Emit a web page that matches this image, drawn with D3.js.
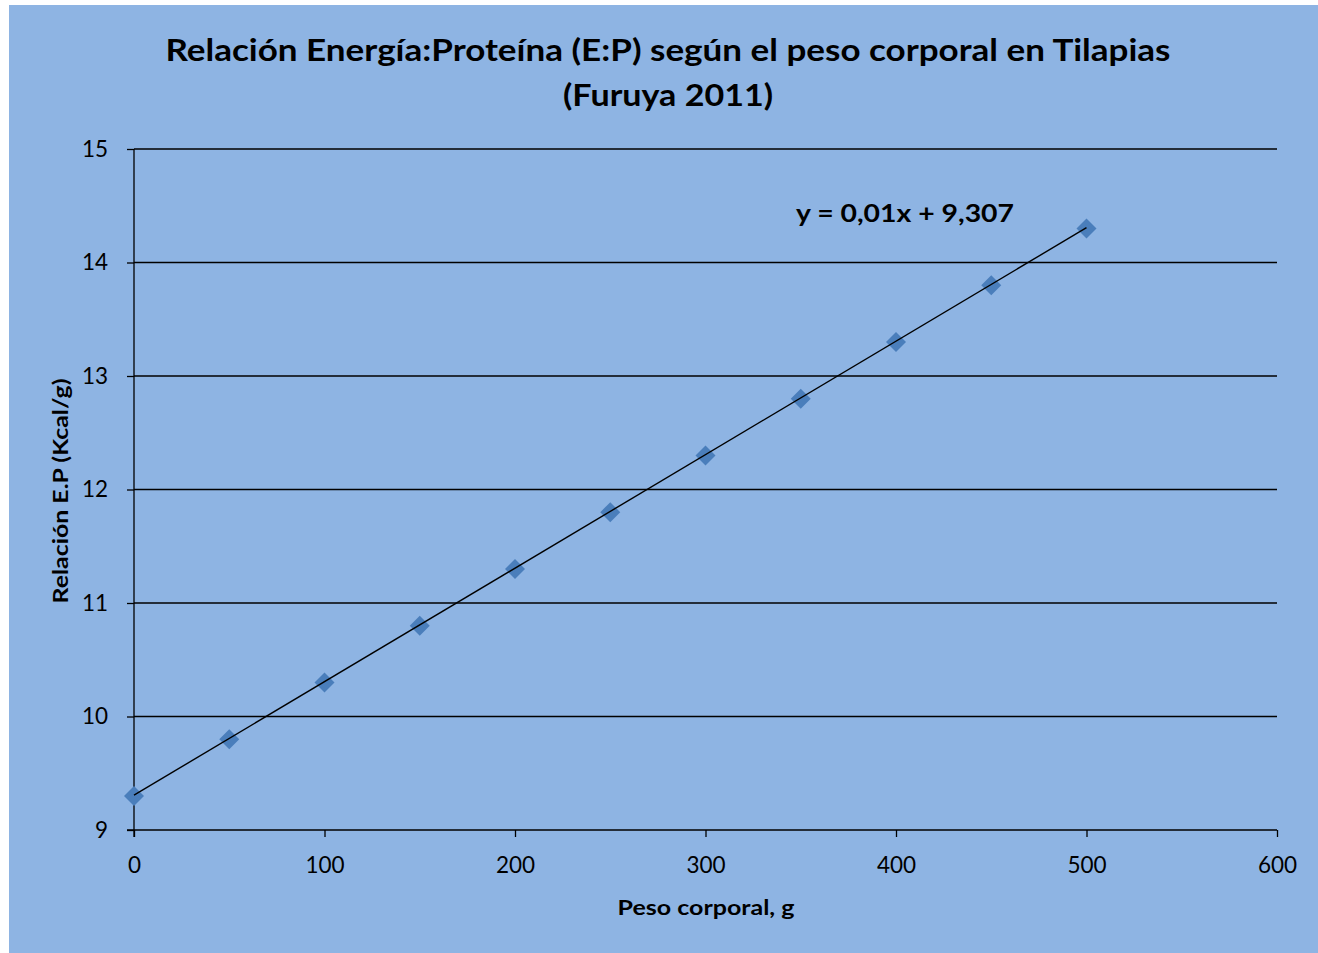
<!DOCTYPE html>
<html><head><meta charset="utf-8">
<script src="https://cdn.jsdelivr.net/npm/d3@7"></script>
<style>html,body{margin:0;padding:0;background:#fff;}svg{display:block;}</style>
</head><body>
<script>
const xValues = [0, 50, 100, 150, 200, 250, 300, 350, 400, 450, 500];
const yValues = [9.3, 9.8, 10.3, 10.8, 11.3, 11.8, 12.3, 12.8, 13.3, 13.8, 14.3];
const xTicks = [0, 100, 200, 300, 400, 500, 600];
const yTicks = [9, 10, 11, 12, 13, 14, 15];
const trendSlope = 0.01, trendIntercept = 9.307;
const titleLines = ["Relación Energía:Proteína (E:P) según el peso corporal en Tilapias", "(Furuya 2011)"];
const xTitle = "Peso corporal, g";
const yTitle = "Relación E.P (Kcal/g)";
const eqText = "y = 0,01x + 9,307";

const W = 1318, H = 953;
const font = "Lato, 'Open Sans', sans-serif";
const svg = d3.select("body").append("svg").attr("width", W).attr("height", H);
svg.append("rect").attr("x", 9).attr("y", 5).attr("width", W - 9).attr("height", H - 5).attr("fill", "#8EB4E3");

const x = d3.scaleLinear().domain([0, 600]).range([134, 1277]);
const y = d3.scaleLinear().domain([9, 15]).range([830, 149]);

// gridlines
svg.append("g").selectAll("line").data(yTicks.filter(d => d > 9)).join("line")
  .attr("x1", x(0)).attr("x2", x(600)).attr("y1", d => y(d)).attr("y2", d => y(d))
  .attr("stroke", "#000").attr("stroke-width", 1.3);

// y axis
const yAxis = d3.axisLeft(y).tickValues(yTicks).tickSize(7).tickPadding(19).tickFormat(d3.format("d"));
const gy = svg.append("g").attr("transform", `translate(${x(0)},0)`).call(yAxis);
gy.select(".domain").remove();
gy.append("line").attr("x1", 0).attr("x2", 0).attr("y1", y(15)).attr("y2", y(9) + 7).attr("stroke", "#000").attr("stroke-width", 1.3);
gy.selectAll(".tick line").attr("stroke", "#000").attr("stroke-width", 1.3);
gy.selectAll(".tick text").attr("font-family", font).attr("font-size", 22.5).attr("fill", "#000");

// x axis
const xAxis = d3.axisBottom(x).tickValues(xTicks).tickSize(7).tickPadding(20).tickFormat(d3.format("d"));
const gx = svg.append("g").attr("transform", `translate(0,${y(9)})`).call(xAxis);
gx.select(".domain").remove();
gx.append("line").attr("x1", x(0) - 7).attr("x2", x(600)).attr("y1", 0).attr("y2", 0).attr("stroke", "#000").attr("stroke-width", 1.3);
gx.selectAll(".tick line").attr("stroke", "#000").attr("stroke-width", 1.3);
gx.selectAll(".tick text").attr("font-family", font).attr("font-size", 22.5).attr("fill", "#000");

// markers
svg.append("g").selectAll("path").data(xValues.map((d, i) => [d, yValues[i]])).join("path")
  .attr("d", d3.symbol().type(d3.symbolSquare).size(200))
  .attr("transform", d => `translate(${x(d[0])},${y(d[1])}) rotate(45)`)
  .attr("fill", "#4A7EBB");

// trendline
const tx = [d3.min(xValues), d3.max(xValues)];
svg.append("line")
  .attr("x1", x(tx[0])).attr("y1", y(trendSlope * tx[0] + trendIntercept))
  .attr("x2", x(tx[1])).attr("y2", y(trendSlope * tx[1] + trendIntercept))
  .attr("stroke", "#000").attr("stroke-width", 1.4);

// equation
svg.append("text").attr("x", 796).attr("y", 222).text(eqText)
  .attr("font-family", font).attr("font-weight", "bold").attr("font-size", 25)
  .attr("textLength", 218).attr("lengthAdjust", "spacingAndGlyphs");

// title
svg.append("text").attr("x", 668).attr("y", 61).attr("text-anchor", "middle").text(titleLines[0])
  .attr("font-family", font).attr("font-weight", "bold").attr("font-size", 30)
  .attr("textLength", 1005).attr("lengthAdjust", "spacingAndGlyphs");
svg.append("text").attr("x", 668).attr("y", 106).attr("text-anchor", "middle").text(titleLines[1])
  .attr("font-family", font).attr("font-weight", "bold").attr("font-size", 30)
  .attr("textLength", 210).attr("lengthAdjust", "spacingAndGlyphs");

// axis titles
svg.append("text").attr("x", 706).attr("y", 915).attr("text-anchor", "middle").text(xTitle)
  .attr("font-family", font).attr("font-weight", "bold").attr("font-size", 21)
  .attr("textLength", 177).attr("lengthAdjust", "spacingAndGlyphs");
svg.append("text").attr("transform", "translate(68,491) rotate(-90)").attr("text-anchor", "middle").text(yTitle)
  .attr("font-family", font).attr("font-weight", "bold").attr("font-size", 21)
  .attr("textLength", 225).attr("lengthAdjust", "spacingAndGlyphs");
</script>
</body></html>
